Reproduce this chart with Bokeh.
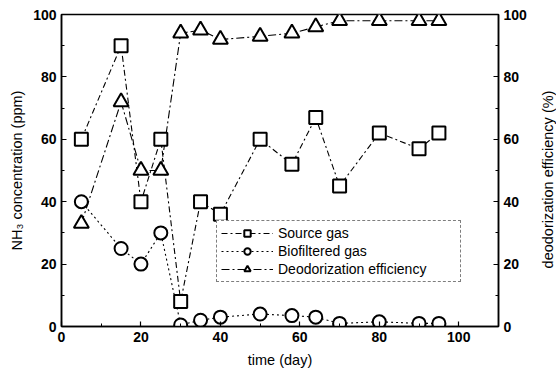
import math
from bokeh.plotting import figure
from bokeh.models import Range1d, LinearAxis, Legend, LegendItem, FixedTicker, Label
from bokeh.embed import file_html
from bokeh.resources import INLINE

# data
days = [5, 15, 20, 25, 30, 35, 40, 50, 58, 64, 70, 80, 90, 95]
source_gas = [60, 90, 40, 60, 8, 40, 36, 60, 52, 67, 45, 62, 57, 62]
biofiltered_gas = [40, 25, 20, 30, 0.5, 2, 3, 4, 3.5, 3, 1, 1.5, 1, 1]
efficiency = [33, 72, 50, 50, 94, 95, 92, 93, 94, 96, 98, 98, 98, 98]
x_ticks = [0, 20, 40, 60, 80, 100]
y_ticks = [0, 20, 40, 60, 80, 100]

FONT = "Liberation Sans"

p = figure(width=556, height=374, output_backend="svg", toolbar_location=None,
           x_range=Range1d(0, 110), y_range=Range1d(0, 100),
           min_border_left=61, min_border_right=58, min_border_top=14, min_border_bottom=48)
p.extra_y_ranges = {"eff": Range1d(0, 100)}
p.grid.visible = False
p.outline_line_color = "black"
p.outline_line_width = 1.5
p.background_fill_color = "white"

def style_axis(ax):
    ax.axis_line_width = 1.5
    ax.axis_line_color = "black"
    ax.major_tick_line_color = "black"
    ax.minor_tick_line_color = "black"
    ax.major_tick_in = 5
    ax.major_tick_out = 0
    ax.minor_tick_in = 3
    ax.minor_tick_out = 0
    ax.major_tick_line_width = 1.2
    ax.major_label_text_font = FONT
    ax.major_label_text_font_style = "bold"
    ax.major_label_text_font_size = "14px"
    ax.major_label_text_color = "black"
    ax.axis_label_text_font = FONT
    ax.axis_label_text_font_style = "normal"
    ax.axis_label_text_font_size = "14.5px"
    ax.axis_label_text_color = "black"

p.xaxis.ticker = FixedTicker(ticks=x_ticks, minor_ticks=[10, 30, 50, 70, 90, 110])
p.yaxis.ticker = FixedTicker(ticks=y_ticks, minor_ticks=[10, 30, 50, 70, 90])
p.xaxis.axis_label = "time (day)"
p.yaxis.axis_label = "NH\u2083 concentration (ppm)"
style_axis(p.xaxis[0])
style_axis(p.yaxis[0])
p.xaxis.axis_label_standoff = 7
p.yaxis.axis_label_standoff = 5

ax_r = LinearAxis(y_range_name="eff",
                  ticker=FixedTicker(ticks=y_ticks, minor_ticks=[10, 30, 50, 70, 90]))
style_axis(ax_r)
p.add_layout(ax_r, "right")

right_label = Label(x=18, y=147, x_units="screen", y_units="screen",
                    text="deodorization efficiency (%)", angle=math.pi / 2,
                    text_align="center", text_baseline="middle",
                    text_font=FONT, text_font_size="14.5px", text_color="black")
p.add_layout(right_label, "right")

# lines
l1 = p.line(days, source_gas, line_color="black", line_width=1.1, line_dash="6 3 2 3")
l2 = p.line(days, biofiltered_gas, line_color="black", line_width=1.1, line_dash="2 3")
l3 = p.line(days, efficiency, line_color="black", line_width=1.1, line_dash="8 3 2 3", y_range_name="eff")

m1 = p.scatter(days, source_gas, marker="square", size=13, fill_color="white",
               line_color="black", line_width=2)
m2 = p.scatter(days, biofiltered_gas, marker="circle", size=13, fill_color="white",
               line_color="black", line_width=2)
m3 = p.scatter(days, efficiency, marker="triangle", size=15, fill_color="white",
               line_color="black", line_width=2, y_range_name="eff")

legend = Legend(items=[
    LegendItem(label="Source gas", renderers=[l1, m1]),
    LegendItem(label="Biofiltered gas", renderers=[l2, m2]),
    LegendItem(label="Deodorization efficiency", renderers=[l3, m3]),
], location=(155, 44))
legend.border_line_color = "black"
legend.border_line_dash = "6 3"
legend.border_line_width = 1
legend.label_text_font = FONT
legend.label_text_font_size = "14px"
legend.label_text_color = "black"
legend.label_height = 16
legend.label_width = 178
legend.glyph_height = 16
legend.glyph_width = 52
legend.spacing = 2
legend.padding = 4
legend.margin = 0
legend.background_fill_alpha = 1
p.add_layout(legend, "center")

open("out.html", "w").write(file_html(p, INLINE))
